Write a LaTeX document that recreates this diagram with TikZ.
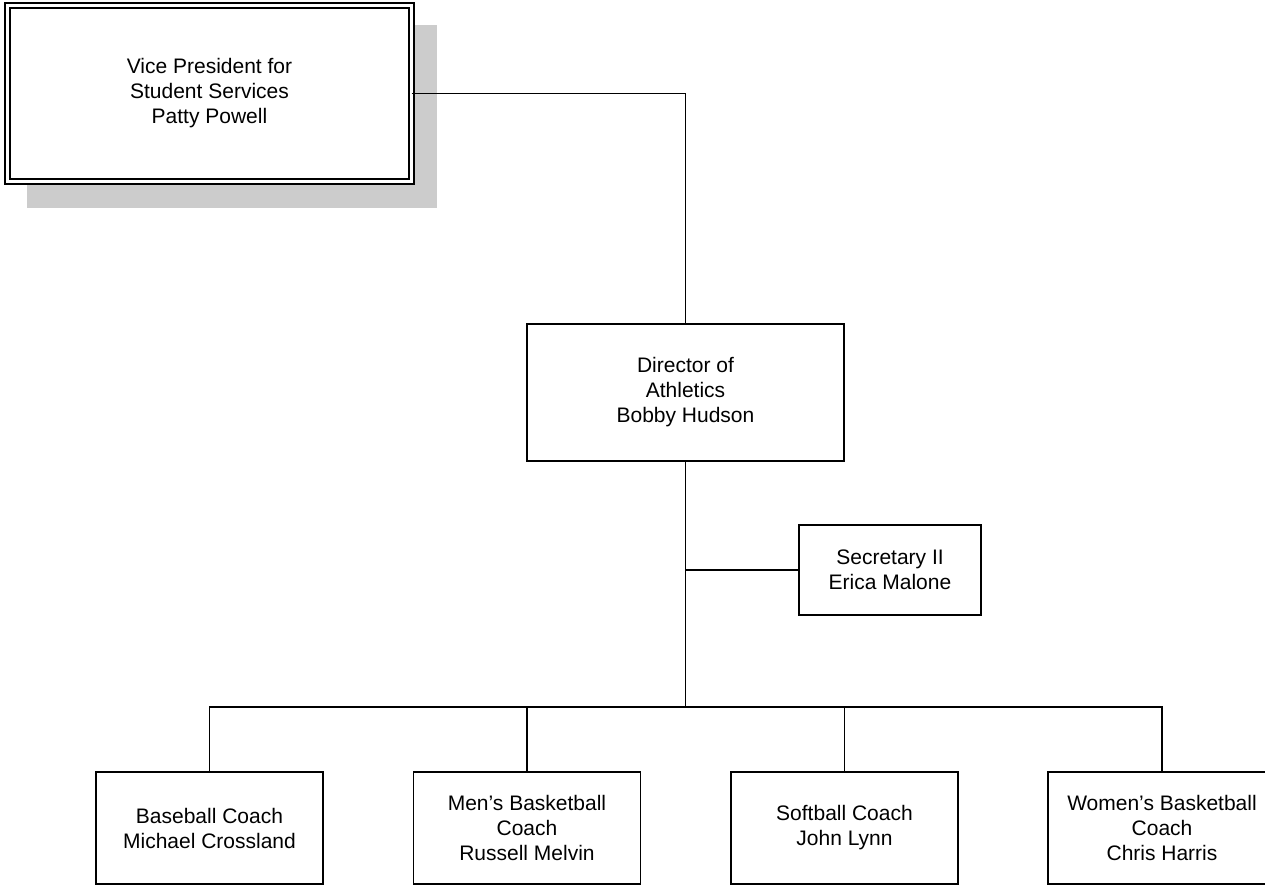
\documentclass[tikz,border=0pt]{standalone}
\usepackage{fontspec}
\setmainfont{Liberation Sans}
\definecolor{shadowgray}{HTML}{CCCCCC}
\begin{document}
\begin{tikzpicture}[x=1pt,y=-1pt,
  box/.style={draw=black, line width=1.6pt, fill=white, rectangle, inner sep=0pt, outer sep=0pt,
    align=center, font=\fontsize{21}{25}\selectfont},
  topbox/.style={box, double=white, double distance=3.4pt, minimum width=404pt, minimum height=176pt},
  midbox/.style={box, minimum width=317pt, minimum height=137pt},
  secbox/.style={box, minimum width=182pt, minimum height=90pt},
  leafbox/.style={box, minimum width=227pt, minimum height=112pt},
  conn/.style={draw=black, line width=1.6pt}
]
\useasboundingbox (0,0) rectangle (1265,885);
\clip (0,0) rectangle (1265,885);
% shadow of top box
\fill[shadowgray] (27,25) rectangle (437,208);
\node[topbox] (vp) at (209.5,93.5) {Vice President for\\Student Services\\Patty Powell};
\node[midbox] (dir) at (685.5,392.5) {Director of\\Athletics\\Bobby Hudson};
\node[secbox] (sec) at (890,570) {Secretary II\\Erica Malone};
\node[leafbox] (bb) at (209.5,828) {Baseball Coach\\Michael Crossland};
\node[leafbox] (mb) at (527,828) {Men's Basketball\\Coach\\Russell Melvin};
\node[leafbox] (sb) at (844.5,828) {Softball Coach\\John Lynn};
\node[leafbox, minimum width=228pt] (wb) at (1162,828) {Women's Basketball\\Coach\\Chris Harris};
\coordinate (bus) at (685.5,707);
\draw[conn] (vp.east) -| (dir.north);
\draw[conn] (dir.south) -- (bus);
\draw[conn] (sec.west) -- (sec.west -| dir.south);
\draw[conn] (bus) -| (bb.north);
\draw[conn] (bus) -| (mb.north);
\draw[conn] (bus) -| (sb.north);
\draw[conn] (bus) -| (wb.north);
\end{tikzpicture}
\end{document}
